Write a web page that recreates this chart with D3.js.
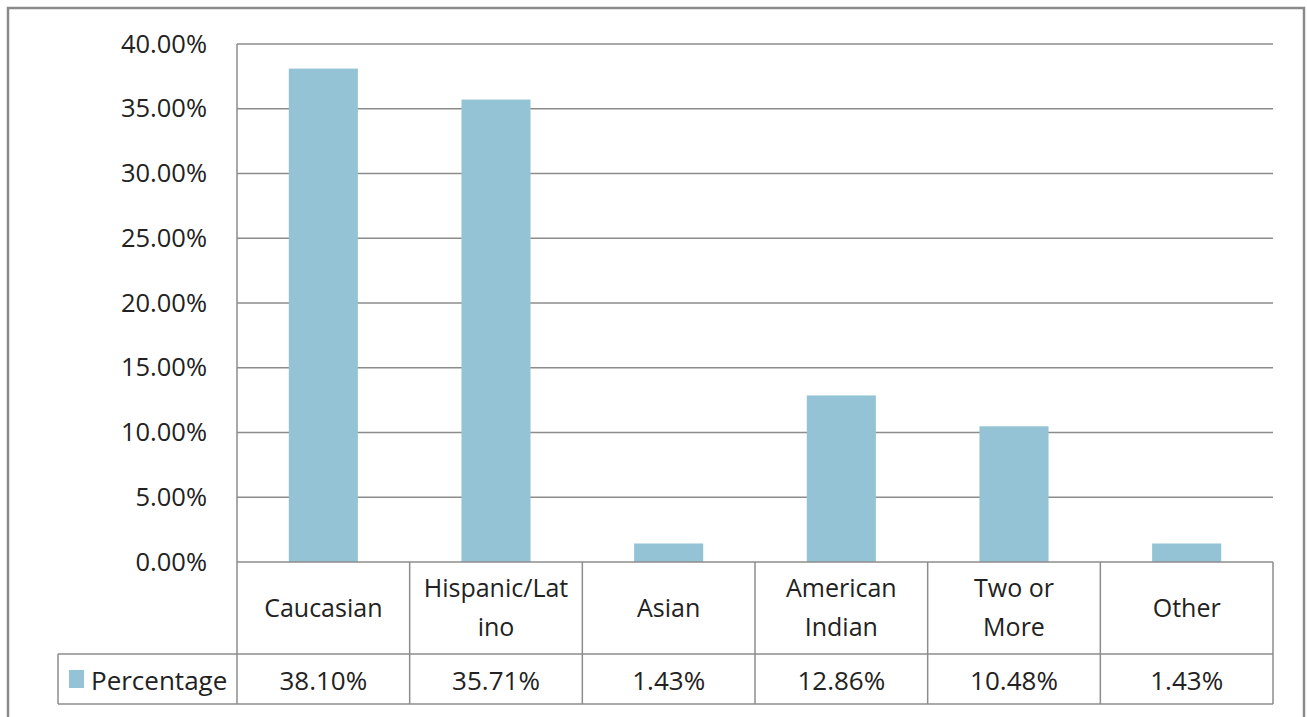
<!DOCTYPE html>
<html>
<head>
<meta charset="utf-8">
<script src="https://cdn.jsdelivr.net/npm/d3@7"></script>
<style>
  body { margin: 0; background: #fff; }
  text { font-family: "Open Sans", "Noto Sans", sans-serif; fill: #222; }
</style>
</head>
<body>
<div id="chart"></div>
<script>
// Données du graphique
const categories = ["Caucasian", "Hispanic/Latino", "Asian", "American Indian", "Two or More", "Other"];
const categoryLines = [["Caucasian"], ["Hispanic/Lat", "ino"], ["Asian"], ["American", "Indian"], ["Two or", "More"], ["Other"]];
const percentages = [38.10, 35.71, 1.43, 12.86, 10.48, 1.43];
const valueLabels = ["38.10%", "35.71%", "1.43%", "12.86%", "10.48%", "1.43%"];
const yTicks = [0, 5, 10, 15, 20, 25, 30, 35, 40];
const seriesName = "Percentage";

const width = 1307, height = 717;
const plot = {left: 237, right: 1273, top: 44, bottom: 562};
const headerBottom = 654, tableBottom = 704, legendLeft = 58;
const barColor = "#93c3d4", lineColor = "#8c8c8c";

const svg = d3.select("#chart").append("svg")
  .attr("width", width)
  .attr("height", height);

// Cadre extérieur
svg.append("rect")
  .attr("x", 8).attr("y", 8)
  .attr("width", 1296).attr("height", 720)
  .attr("fill", "none")
  .attr("stroke", "#8a8a8a")
  .attr("stroke-width", 2.5);

// Échelles
const x = d3.scaleBand()
  .domain(categories)
  .range([plot.left, plot.right])
  .paddingInner(0.6)
  .paddingOuter(0.3);
const y = d3.scaleLinear().domain([0, 40]).range([plot.bottom, plot.top]);
const step = x.step();
const colLeft = c => x(c) - step * 0.3;

// Axe Y et grille
const yAxis = svg.append("g")
  .attr("transform", `translate(${plot.left},0)`)
  .call(d3.axisLeft(y).tickValues(yTicks).tickSize(0).tickPadding(30)
    .tickFormat(d => d.toFixed(2) + "%"));
yAxis.select(".domain").remove();
yAxis.selectAll("text")
  .attr("font-size", 25.5)
  .attr("fill", "#222")
  .style("font-family", '"Open Sans", sans-serif');

svg.append("g").selectAll("line")
  .data(yTicks.filter(d => d > 0))
  .join("line")
  .attr("x1", plot.left).attr("x2", plot.right)
  .attr("y1", d => y(d)).attr("y2", d => y(d))
  .attr("stroke", lineColor).attr("stroke-width", 1.5);

// Barres
svg.append("g").selectAll("rect")
  .data(categories)
  .join("rect")
  .attr("x", d => x(d))
  .attr("width", x.bandwidth())
  .attr("y", (d, i) => y(percentages[i]))
  .attr("height", (d, i) => y(0) - y(percentages[i]))
  .attr("fill", barColor);

// Tableau de données
const grid = svg.append("g")
  .attr("stroke", lineColor).attr("stroke-width", 1.5);
grid.append("line")
  .attr("x1", plot.left).attr("x2", plot.right)
  .attr("y1", plot.bottom).attr("y2", plot.bottom);
[headerBottom, tableBottom].forEach(yy => {
  grid.append("line")
    .attr("x1", legendLeft).attr("x2", plot.right)
    .attr("y1", yy).attr("y2", yy);
});
grid.append("line")
  .attr("x1", plot.left).attr("x2", plot.left)
  .attr("y1", plot.top).attr("y2", tableBottom);
grid.append("line")
  .attr("x1", legendLeft).attr("x2", legendLeft)
  .attr("y1", headerBottom).attr("y2", tableBottom);
grid.selectAll(".col")
  .data(categories)
  .join("line")
  .attr("class", "col")
  .attr("x1", d => colLeft(d) + step).attr("x2", d => colLeft(d) + step)
  .attr("y1", plot.bottom).attr("y2", tableBottom);

// Libellés des catégories
svg.append("g").selectAll("text")
  .data(categories)
  .join("text")
  .attr("x", d => x(d) + x.bandwidth() / 2)
  .attr("y", (d, i) => categoryLines[i].length > 1 ? 597 : 617)
  .attr("text-anchor", "middle")
  .attr("font-size", 25)
  .each(function(d, i) {
    d3.select(this).selectAll("tspan")
      .data(categoryLines[i])
      .join("tspan")
      .attr("x", x(d) + x.bandwidth() / 2)
      .attr("dy", (t, j) => j === 0 ? 0 : 39)
      .text(t => t);
  });

// Valeurs
svg.append("g").selectAll("text")
  .data(categories)
  .join("text")
  .attr("x", d => x(d) + x.bandwidth() / 2)
  .attr("y", 690)
  .attr("text-anchor", "middle")
  .attr("font-size", 26)
  .text((d, i) => valueLabels[i]);

// Légende
svg.append("rect")
  .attr("x", 69).attr("y", 670)
  .attr("width", 15).attr("height", 18)
  .attr("fill", barColor);
svg.append("text")
  .attr("x", 91).attr("y", 690)
  .attr("font-size", 26)
  .text(seriesName);
</script>
</body>
</html>
